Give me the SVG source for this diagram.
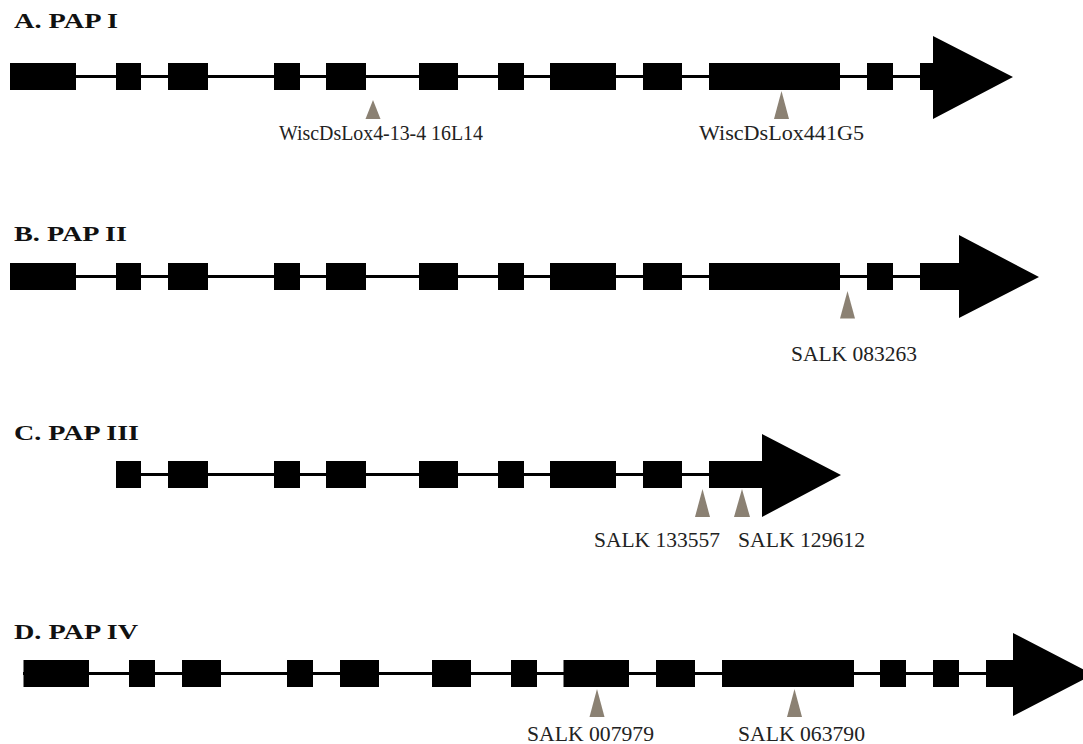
<svg xmlns="http://www.w3.org/2000/svg" width="1083" height="744" viewBox="0 0 1083 744">
<style>
.title{font-family:"Liberation Serif","Times New Roman",serif;font-weight:bold;font-size:21px;fill:#111}
.lbl{font-family:"Liberation Serif","Times New Roman",serif;font-size:21px;fill:#222}
.exon{fill:#000}
.intron{stroke:#000;stroke-width:3;fill:none}
.ins{fill:#8b8173}
</style>
<rect width="1083" height="744" fill="#fff"/>
<g id="connectors">
<line class="intron" x1="10" y1="76.5" x2="925" y2="76.5"/>
<line class="intron" x1="10" y1="276.5" x2="925" y2="276.5"/>
<line class="intron" x1="116" y1="474.5" x2="715" y2="474.5"/>
<line class="intron" x1="23" y1="673.5" x2="990" y2="673.5"/>
</g>
<g id="geneA">
<text class="title" x="14" y="28" textLength="104" lengthAdjust="spacingAndGlyphs">A.  PAP I</text>
<rect class="exon" x="10" y="63" width="66" height="27"/>
<rect class="exon" x="116" y="63" width="25" height="27"/>
<rect class="exon" x="168" y="63" width="40" height="27"/>
<rect class="exon" x="274" y="63" width="26" height="27"/>
<rect class="exon" x="326" y="63" width="40" height="27"/>
<rect class="exon" x="419" y="63" width="39" height="27"/>
<rect class="exon" x="498" y="63" width="26" height="27"/>
<rect class="exon" x="550" y="63" width="66" height="27"/>
<rect class="exon" x="643" y="63" width="39" height="27"/>
<rect class="exon" x="709" y="63" width="131" height="27"/>
<rect class="exon" x="867" y="63" width="26" height="27"/>
<polygon class="exon" points="920,63 933,63 933,36 1013,77 933,119 933,90 920,90"/>
<polygon class="ins" points="373,100 380.5,119 365.5,119"/>
<polygon class="ins" points="781.5,91 789,119 774,119"/>
<text class="lbl" x="279" y="140" textLength="204" lengthAdjust="spacingAndGlyphs">WiscDsLox4-13-4 16L14</text>
<text class="lbl" x="699" y="140" textLength="165" lengthAdjust="spacingAndGlyphs">WiscDsLox441G5</text>
</g>
<g id="geneB">
<text class="title" x="14" y="241" textLength="113" lengthAdjust="spacingAndGlyphs">B.  PAP II</text>
<rect class="exon" x="10" y="263" width="66" height="27"/>
<rect class="exon" x="116" y="263" width="25" height="27"/>
<rect class="exon" x="168" y="263" width="40" height="27"/>
<rect class="exon" x="274" y="263" width="26" height="27"/>
<rect class="exon" x="326" y="263" width="40" height="27"/>
<rect class="exon" x="419" y="263" width="39" height="27"/>
<rect class="exon" x="498" y="263" width="26" height="27"/>
<rect class="exon" x="550" y="263" width="66" height="27"/>
<rect class="exon" x="643" y="263" width="39" height="27"/>
<rect class="exon" x="709" y="263" width="131" height="27"/>
<rect class="exon" x="867" y="263" width="26" height="27"/>
<polygon class="exon" points="920,263 959,263 959,235 1039,277 959,318 959,290 920,290"/>
<polygon class="ins" points="847.5,291 855,318.5 840,318.5"/>
<text class="lbl" x="791" y="361" textLength="126" lengthAdjust="spacingAndGlyphs">SALK 083263</text>
</g>
<g id="geneC">
<text class="title" x="14" y="440" textLength="125" lengthAdjust="spacingAndGlyphs">C.  PAP III</text>
<rect class="exon" x="116" y="461" width="25" height="27"/>
<rect class="exon" x="168" y="461" width="40" height="27"/>
<rect class="exon" x="274" y="461" width="26" height="27"/>
<rect class="exon" x="326" y="461" width="40" height="27"/>
<rect class="exon" x="419" y="461" width="39" height="27"/>
<rect class="exon" x="498" y="461" width="26" height="27"/>
<rect class="exon" x="550" y="461" width="66" height="27"/>
<rect class="exon" x="643" y="461" width="39" height="27"/>
<polygon class="exon" points="709,461 762,461 762,434 841,475 762,517 762,488 709,488"/>
<polygon class="ins" points="702.5,489 710,517 695,517"/>
<polygon class="ins" points="742,489 750,517 734,517"/>
<text class="lbl" x="594" y="547" textLength="126" lengthAdjust="spacingAndGlyphs">SALK 133557</text>
<text class="lbl" x="738" y="547" textLength="127" lengthAdjust="spacingAndGlyphs">SALK 129612</text>
</g>
<g id="geneD">
<text class="title" x="14" y="639" textLength="124" lengthAdjust="spacingAndGlyphs">D.  PAP IV</text>
<rect class="exon" x="23.5" y="660" width="65.5" height="27"/>
<rect class="exon" x="129" y="660" width="26" height="27"/>
<rect class="exon" x="182" y="660" width="39" height="27"/>
<rect class="exon" x="287" y="660" width="26" height="27"/>
<rect class="exon" x="340" y="660" width="39" height="27"/>
<rect class="exon" x="432" y="660" width="39" height="27"/>
<rect class="exon" x="511" y="660" width="26" height="27"/>
<rect class="exon" x="563.5" y="660" width="65.5" height="27"/>
<rect class="exon" x="656" y="660" width="39" height="27"/>
<rect class="exon" x="722" y="660" width="132" height="27"/>
<rect class="exon" x="880" y="660" width="26" height="27"/>
<rect class="exon" x="933" y="660" width="26" height="27"/>
<polygon class="exon" points="986,660 1013,660 1013,633 1093,674.5 1013,716 1013,687 986,687"/>
<polygon class="ins" points="597,689 604.5,717 589.5,717"/>
<polygon class="ins" points="794.5,689 802,717 787,717"/>
<text class="lbl" x="527" y="741" textLength="127" lengthAdjust="spacingAndGlyphs">SALK 007979</text>
<text class="lbl" x="738" y="741" textLength="127" lengthAdjust="spacingAndGlyphs">SALK 063790</text>
</g>
</svg>
